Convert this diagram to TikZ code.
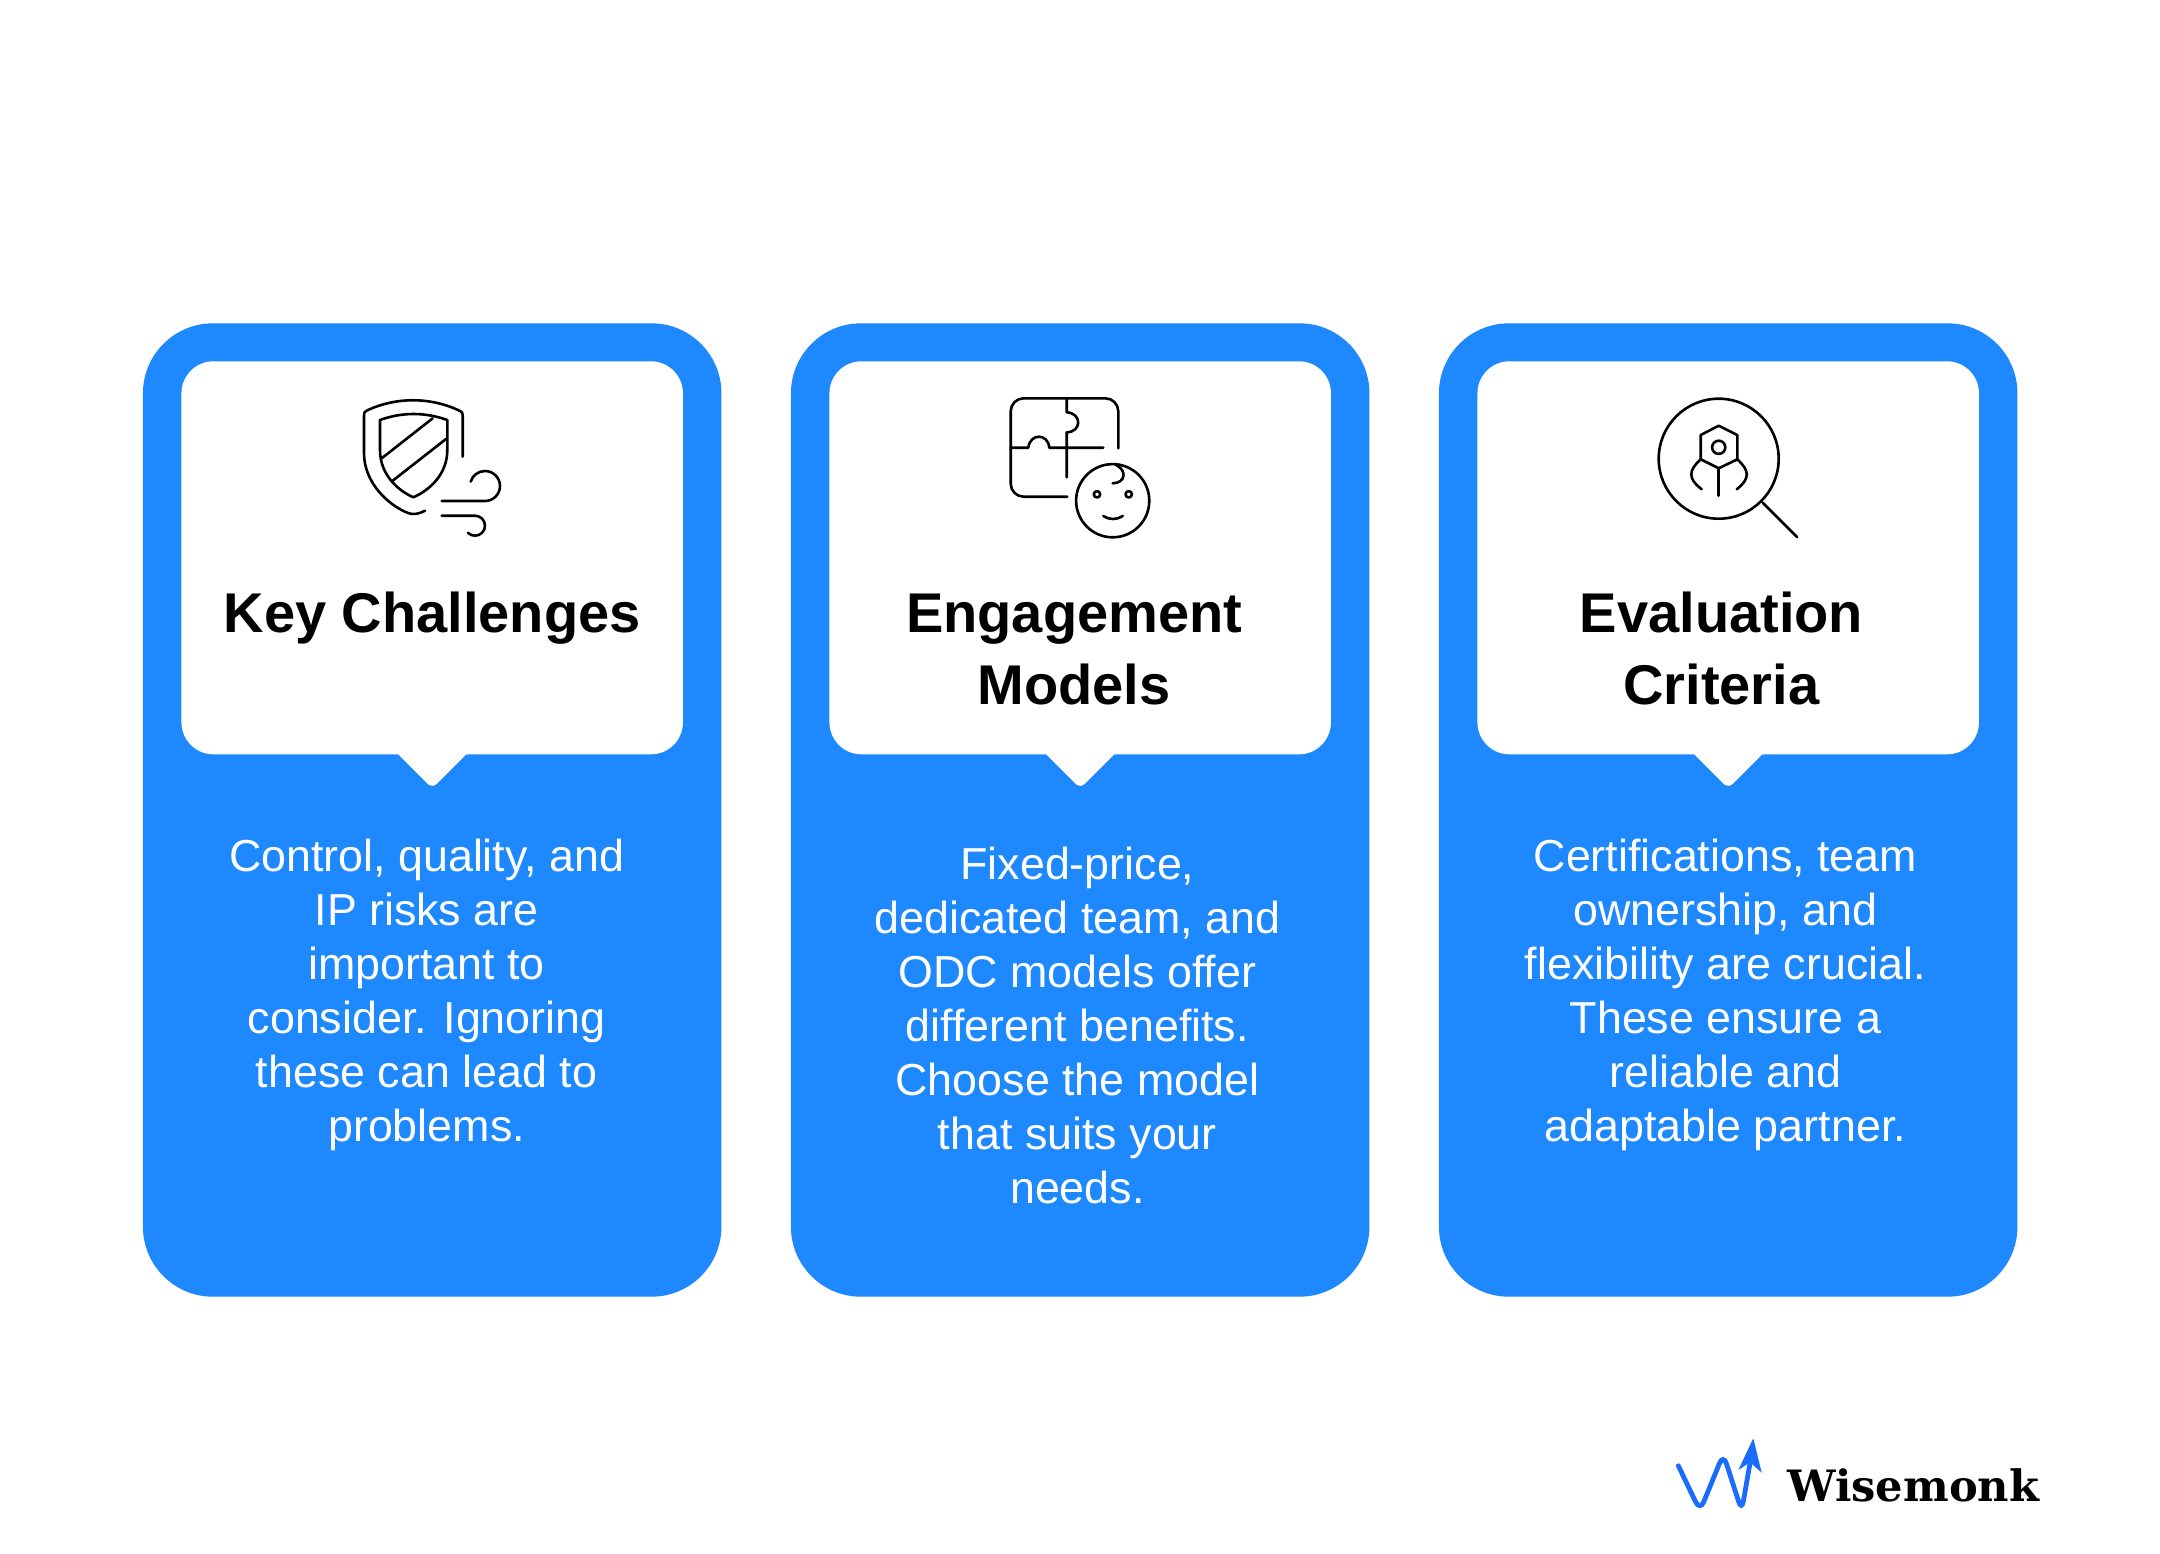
\documentclass[tikz,border=0pt]{standalone}
\usepackage{fontspec}
\setmainfont{Liberation Sans}
\newfontfamily\logofont{DejaVu Serif}
\usetikzlibrary{positioning}
\definecolor{cardblue}{RGB}{30,136,255}
\definecolor{logoblue}{RGB}{26,108,255}

\begin{document}
\begin{tikzpicture}[x=0.5pt, y=-0.5pt,
  card/.style = {fill=cardblue, rounded corners=35pt, minimum width=289.25pt, minimum height=486.7pt, inner sep=0pt, outer sep=0pt},
  panel/.style = {fill=white, rounded corners=16pt, minimum width=250.75pt, minimum height=196.5pt, inner sep=0pt, outer sep=0pt},
  pointer/.style = {fill=white, rounded corners=3pt},
  title/.style = {font=\bfseries\fontsize{28}{36}\selectfont, align=center, inner sep=0pt},
  body/.style = {font=\fontsize{22.4}{27.05}\selectfont, text=white, align=center, inner sep=0pt},
  icon/.style = {draw=black, line width=1.3pt, line cap=round, line join=round}]
\useasboundingbox (0,0) rectangle (2160,1554);
\fill[white] (0,0) rectangle (2160,1554);

\node[card] (card1) at (432.2,810) {};
\node[card] (card2) [right=34.75pt of card1] {};
\node[card] (card3) [right=34.75pt of card2] {};
\node[panel] (panel1) [below=19pt of card1.north] {};
\node[panel] (panel2) [below=19pt of card2.north] {};
\node[panel] (panel3) [below=19pt of card3.north] {};
\fill[pointer] ([xshift=-20pt,yshift=3pt]panel1.south) -- ([yshift=-17pt]panel1.south) -- ([xshift=20pt,yshift=3pt]panel1.south) -- cycle;
\fill[pointer] ([xshift=-20pt,yshift=3pt]panel2.south) -- ([yshift=-17pt]panel2.south) -- ([xshift=20pt,yshift=3pt]panel2.south) -- cycle;
\fill[pointer] ([xshift=-20pt,yshift=3pt]panel3.south) -- ([yshift=-17pt]panel3.south) -- ([xshift=20pt,yshift=3pt]panel3.south) -- cycle;

\node[title] (head1) [below=115pt of panel1.north] {Key Challenges};
\node[title] (head2) [below=116pt of panel2.north, xshift=-3pt] {Engagement\\Models};
\node[title] (head3) [below=115pt of panel3.north, xshift=-3.4pt] {Evaluation\\Criteria};

\node[body] (text1) [below=42pt of panel1.south, xshift=-2.8pt] {Control, quality, and\\IP risks are\\important to\\consider. Ignoring\\these can lead to\\problems.};
\node[body] (text2) [below=46pt of panel2.south, xshift=-1.4pt] {Fixed-price,\\dedicated team, and\\ODC models offer\\different benefits.\\Choose the model\\that suits your\\needs.};
\node[body] (text3) [below=42pt of panel3.south, xshift=-1.4pt] {Certifications, team\\ownership, and\\flexibility are crucial.\\These ensure a\\reliable and\\adaptable partner.};

% shield
\draw[icon] (462.7,456.7) -- (462.7,416) .. controls (462.7,412) and (461,411) .. (458,410) .. controls (430,397) and (396,397) .. (368,410) .. controls (365,411) and (364,412) .. (364,416) -- (364,453) .. controls (364,484) and (390,506) .. (408,513) .. controls (413,515) and (419,514) .. (425,510.7);
\draw[icon] (380,420) .. controls (402,412) and (425,412) .. (447.3,420) -- (447.3,450) .. controls (447.3,474) and (430,490) .. (413.3,497.3) .. controls (397,490) and (380,474) .. (380,450) -- cycle;
\draw[icon] (381.7,458.3) -- (432.7,418.3);
\draw[icon] (392.7,480.7) -- (446,439);
\draw[icon] (441.7,501) -- (485,501) arc[start angle=-90, end angle=163, radius=7.5pt];
\draw[icon] (441.7,515.7) -- (475,515.7) arc[start angle=90, end angle=-135, radius=5pt];

% puzzle and face
\draw[icon, rounded corners=6.5pt] (1118.3,448.3) -- (1118.3,398.3) -- (1010.7,398.3) -- (1010.7,496.7) -- (1067.3,496.7);
\draw[icon] (1066.7,398.3) -- (1066.7,412.3) .. controls (1082,413) and (1082,432) .. (1066.7,432.3) -- (1066.7,477.3);
\draw[icon] (1010.7,447.7) -- (1028.3,447.7) .. controls (1030,433) and (1048,433) .. (1049.3,447.7) -- (1103.3,447.7);
\draw[icon] (1112.7,500.7) circle[radius=18.3pt];
\draw[icon] (1097,494.3) circle[radius=1.6pt];
\draw[icon] (1128.7,494.3) circle[radius=1.6pt];
\draw[icon] (1103.3,516) .. controls (1109,520) and (1117,520) .. (1122.7,516);
\draw[icon] (1116,465) .. controls (1127,470) and (1126,483) .. (1112.7,483.3);

% magnifier
\draw[icon] (1718.7,458.7) circle[radius=30pt];
\draw[icon] (1762.7,502.7) -- (1797.3,537.3);
\draw[icon] (1718.7,425.7) -- (1737.3,435) -- (1737.3,459.3) -- (1718.7,468.3) -- (1700.7,459.3) -- (1700.7,435) -- cycle;
\draw[icon] (1718.7,447.3) circle[radius=3.3pt];
\draw[icon] (1718.7,468.3) -- (1718.7,495.7);
\draw[icon] (1700.7,459.3) .. controls (1689,470) and (1687,478) .. (1701.7,489.3);
\draw[icon] (1737.3,459.3) .. controls (1749,470) and (1751,478) .. (1736.7,489.3);

% logo
\draw[logoblue, line width=2.4pt, line cap=round, rounded corners=5pt] (1678.3,1465.7) -- (1700,1511) -- (1723.3,1454) -- (1741.7,1511) -- (1750,1463);
\fill[logoblue] (1753.3,1438.3) -- (1761.7,1472.7) -- (1750,1462.3) -- (1738.3,1470) -- cycle;
\node[font=\logofont\bfseries\fontsize{21.6}{28}\selectfont, anchor=base west, inner sep=0pt] (brand) at (1787,1501.7) {Wisemonk};
\end{tikzpicture}
\end{document}
